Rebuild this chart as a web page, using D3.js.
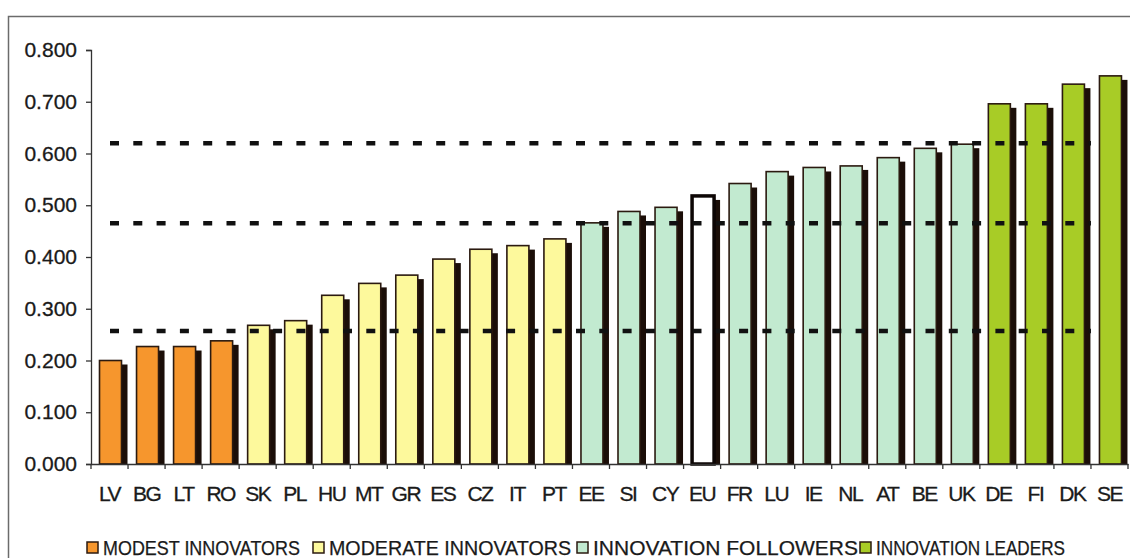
<!DOCTYPE html>
<html>
<head>
<meta charset="utf-8">
<script src="https://cdn.jsdelivr.net/npm/d3@7"></script>
<style>
  html, body { margin: 0; padding: 0; background: #fff; }
  svg { display: block; font-family: "Liberation Sans", Arial, sans-serif; }
</style>
</head>
<body>
<svg id="chart" width="1130" height="558"></svg>
<script>
// Summary innovation index by country, grouped by innovation performance
const countries = ["LV","BG","LT","RO","SK","PL","HU","MT","GR","ES","CZ","IT","PT",
                   "EE","SI","CY","EU","FR","LU","IE","NL","AT","BE","UK","DE","FI","DK","SE"];
const scores = [0.200,0.227,0.227,0.238,0.268,0.277,0.326,0.349,0.365,0.396,0.415,0.422,0.435,
                0.466,0.488,0.496,0.518,0.542,0.565,0.573,0.576,0.592,0.610,0.618,0.696,0.696,0.734,0.750];
const groupOf = ["modest","modest","modest","modest",
                 "moderate","moderate","moderate","moderate","moderate","moderate","moderate","moderate","moderate",
                 "follower","follower","follower","eu","follower","follower","follower","follower","follower","follower","follower",
                 "leader","leader","leader","leader"];
// Group threshold reference lines
const thresholds = [0.620, 0.465, 0.257];
const yTicks = [0, 0.1, 0.2, 0.3, 0.4, 0.5, 0.6, 0.7, 0.8];
const legendGroups = ["modest","moderate","follower","leader"];
const legendLabels = ["MODEST INNOVATORS","MODERATE INNOVATORS","INNOVATION FOLLOWERS","INNOVATION LEADERS"];

const fills = {
  modest: "#f6962d",
  moderate: "#fdf99c",
  follower: "#c2ead0",
  eu: "#ffffff",
  leader: "#a8cc26"
};

const svg = d3.select("#chart");

// Outer frame of the chart area (runs off the right and bottom edges)
svg.append("rect")
  .attr("x", 8.5).attr("y", 16.5)
  .attr("width", 1140).attr("height", 560)
  .attr("fill", "none").attr("stroke", "#6b6b6b").attr("stroke-width", 1.5);

const x = d3.scaleBand().domain(countries).range([91, 1128]).paddingInner(0).paddingOuter(0);
const y = d3.scaleLinear().domain([0, 0.8]).range([464, 50]);

const barOffset = 8.5, barW = 22, shadowDx = 6, shadowDy = 4;
const data = countries.map((c, i) => ({ c, v: scores[i], g: groupOf[i] }));

// Drop shadows behind the bars
svg.append("g").selectAll("rect").data(data).join("rect")
  .attr("x", d => x(d.c) + barOffset + shadowDx)
  .attr("y", d => y(d.v) + shadowDy)
  .attr("width", barW)
  .attr("height", d => y(0) - y(d.v) - shadowDy)
  .attr("fill", "#1b0e08");

// Bars
svg.append("g").selectAll("rect").data(data).join("rect")
  .attr("x", d => x(d.c) + barOffset)
  .attr("y", d => y(d.v))
  .attr("width", barW)
  .attr("height", d => y(0) - y(d.v))
  .attr("fill", d => fills[d.g])
  .attr("stroke", d => d.g === "eu" ? "#0d0605" : "#2b1a10")
  .attr("stroke-width", d => d.g === "eu" ? 3.5 : 1.6);

// Dotted threshold lines, drawn over the bars
svg.append("g").selectAll("line").data(thresholds).join("line")
  .attr("x1", x(countries[0]) + 19)
  .attr("x2", x(countries[countries.length - 1]))
  .attr("y1", d => y(d)).attr("y2", d => y(d))
  .attr("stroke", "#111").attr("stroke-width", 4.5)
  .attr("stroke-dasharray", "9,14.3");

// Y axis
const yAxis = svg.append("g")
  .attr("transform", "translate(91,0)")
  .call(d3.axisLeft(y).tickValues(yTicks).tickFormat(d3.format(".3f")).tickSize(5).tickPadding(9));
yAxis.attr("font-size", null).attr("font-family", null);
yAxis.select(".domain").attr("stroke", "#333").attr("stroke-width", 1.3);
yAxis.selectAll(".tick line").attr("stroke", "#333").attr("stroke-width", 1.3);
yAxis.selectAll(".tick text")
  .style("font-size", "21px").attr("fill", "#1a1a1a")
  .attr("stroke", "#1a1a1a").attr("stroke-width", 0.3);

// X axis with category labels
const xAxis = svg.append("g")
  .attr("transform", "translate(0,464)")
  .call(d3.axisBottom(x).tickSize(0).tickPadding(22).tickSizeOuter(0));
xAxis.attr("font-size", null).attr("font-family", null);
xAxis.select(".domain").attr("stroke", "#333").attr("stroke-width", 1.3);
xAxis.selectAll(".tick text")
  .style("font-size", "21px").attr("fill", "#1a1a1a")
  .attr("stroke", "#1a1a1a").attr("stroke-width", 0.3)
  .attr("letter-spacing", "-1.5px");

// Tick marks between categories
const bounds = countries.map(c => x(c)).concat([x.range()[1]]);
svg.append("g").selectAll("line").data(bounds).join("line")
  .attr("x1", d => d).attr("x2", d => d)
  .attr("y1", 464).attr("y2", 469)
  .attr("stroke", "#333").attr("stroke-width", 1.3);

// Legend
const legendX = [87, 313, 577, 860];
const legendTextW = [197, 242, 265, 189];
const legend = svg.append("g").attr("transform", "translate(0,548)");
legendGroups.forEach((g, i) => {
  legend.append("rect")
    .attr("x", legendX[i]).attr("y", -6)
    .attr("width", 11).attr("height", 11)
    .attr("fill", fills[g]).attr("stroke", "#2b1a10").attr("stroke-width", 1.5);
  legend.append("text")
    .attr("x", legendX[i] + 16).attr("y", 7)
    .style("font-size", "20px").attr("fill", "#1a1a1a")
    .attr("stroke", "#1a1a1a").attr("stroke-width", 0.25)
    .attr("textLength", legendTextW[i]).attr("lengthAdjust", "spacingAndGlyphs")
    .text(legendLabels[i]);
});
</script>
</body>
</html>
